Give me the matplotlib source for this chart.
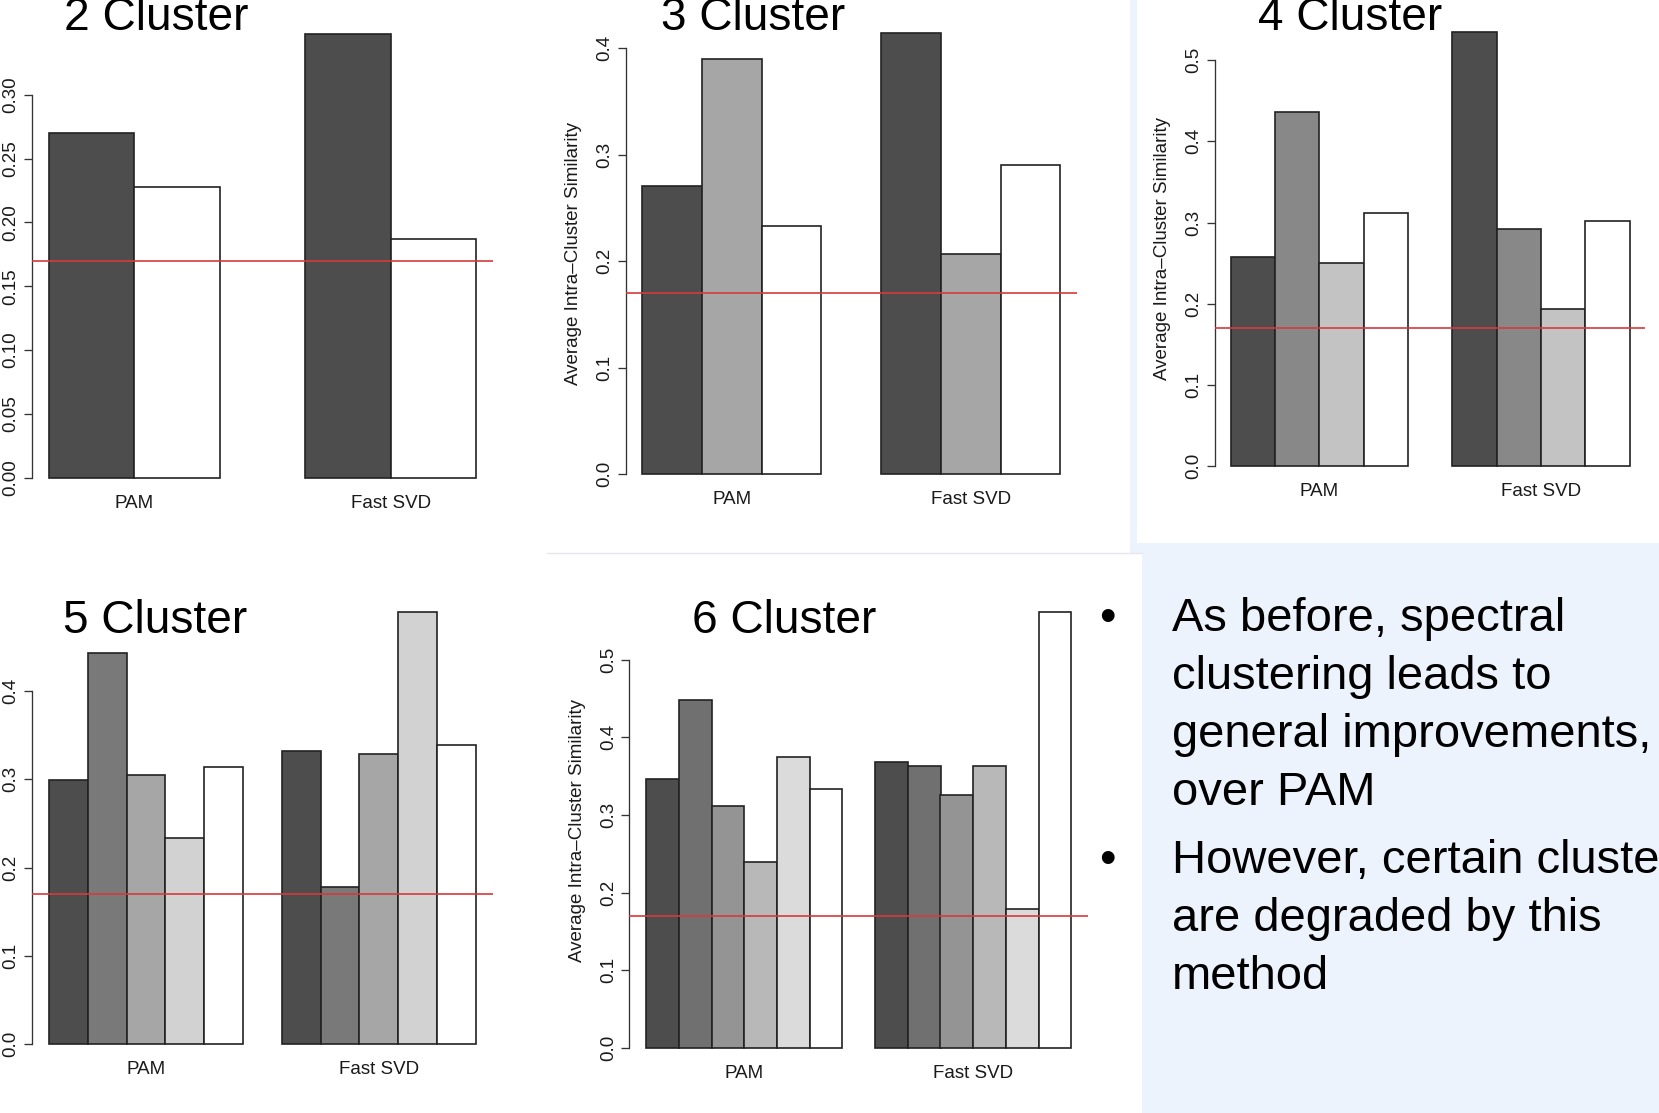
import matplotlib
matplotlib.use("Agg")
import matplotlib.pyplot as plt
from matplotlib.patches import Rectangle
from matplotlib.transforms import offset_copy
import numpy as np

plt.rcParams['font.family'] = ['Liberation Sans', 'DejaVu Sans']

W, H, DPI = 1659, 1113, 100

# ---------------- data ----------------
groups = ["PAM", "Fast SVD"]
titles = ["2 Cluster", "3 Cluster", "4 Cluster", "5 Cluster", "6 Cluster"]

pam_2 = [0.270, 0.228]
svd_2 = [0.348, 0.187]

pam_3 = [0.271, 0.390, 0.233]
svd_3 = [0.414, 0.207, 0.290]

pam_4 = [0.258, 0.436, 0.250, 0.312]
svd_4 = [0.535, 0.292, 0.193, 0.302]

pam_5 = [0.299, 0.443, 0.305, 0.234, 0.314]
svd_5 = [0.332, 0.178, 0.329, 0.490, 0.339]

pam_6 = [0.346, 0.448, 0.312, 0.239, 0.375, 0.334]
svd_6 = [0.368, 0.363, 0.326, 0.363, 0.179, 0.561]

reference_line = 0.17

ticks_2 = [0.00, 0.05, 0.10, 0.15, 0.20, 0.25, 0.30]
ticks_3 = [0.0, 0.1, 0.2, 0.3, 0.4]
ticks_4 = [0.0, 0.1, 0.2, 0.3, 0.4, 0.5]
ticks_5 = [0.0, 0.1, 0.2, 0.3, 0.4]
ticks_6 = [0.0, 0.1, 0.2, 0.3, 0.4, 0.5]
tick_fmt = ["{:.2f}", "{:.1f}", "{:.1f}", "{:.1f}", "{:.1f}"]

ylabel = "Average Intra\u2013Cluster Similarity"

bullet_1 = ["As before, spectral", "clustering leads to",
            "general improvements,", "over PAM"]
bullet_2 = ["However, certain clusters", "are degraded by this", "method"]

# ---------------- layout (pixels) ----------------
# (left edge of first bar, right edge of last bar, y of zero, px per unit)
layout = [
    (49.0, 476.0, 477.5, 1275.0),
    (642.4, 1060.2, 474.2, 1064.5),
    (1230.7, 1629.5, 465.8, 811.0),
    (49.0, 475.7, 1044.0, 882.0),
    (646.2, 1071.3, 1047.8, 776.0),
]
title_pos = [(63.5, 30), (661.3, 29.5), (1257.5, 30.5), (63.3, 633.4), (691.7, 633.4)]

BG = '#EDF3FC'
fig = plt.figure(figsize=(W / DPI, H / DPI), dpi=DPI, facecolor=BG)


def fx(x):
    return x / W


def fy(y):
    return 1 - y / H


# white image areas of the slide
for (x0, y0, x1, y1) in [(0, 0, 1130, 553), (0, 553, 1142, 1113), (1137, 0, 1659, 543)]:
    fig.patches.append(Rectangle((fx(x0), fy(y1)), (x1 - x0) / W, (y1 - y0) / H,
                                 transform=fig.transFigure, facecolor='white',
                                 edgecolor='none', zorder=-5))
fig.lines.append(plt.Line2D([fx(547), fx(1142)], [fy(553), fy(553)],
                            transform=fig.transFigure, color='#E6E7EC', lw=1.0,
                            zorder=-4))

pams = [pam_2, pam_3, pam_4, pam_5, pam_6]
svds = [svd_2, svd_3, svd_4, svd_5, svd_6]
tickss = [ticks_2, ticks_3, ticks_4, ticks_5, ticks_6]

TXT = '#1a1a1a'
AXC = '#333333'

for k in range(5):
    pam, svd, ticks = pams[k], svds[k], tickss[k]
    n = len(pam)
    xL, xR, y0, ppu = layout[k]
    span = 2 * n + 1
    unit = (xR - xL) / span
    pad_u = 0.04 * span
    ax_left = xL - pad_u * unit
    ax_w = span * 1.08 * unit
    hmax = max(pam + svd)
    ax_top = y0 - hmax * ppu
    ax = fig.add_axes([fx(ax_left), fy(y0), ax_w / W, (y0 - ax_top) / H])
    ax.set_zorder(2)
    ax.set_facecolor('none')
    ax.set_xlim(1 - pad_u, 2 * n + 2 + pad_u)
    ax.set_ylim(0, hmax)

    greys = np.linspace(0.3, 1.0, n)
    colors = [(g, g, g) for g in greys]
    for gi, vals in enumerate([pam, svd]):
        lefts = [1 + gi * (n + 1) + i for i in range(n)]
        ax.bar(lefts, vals, width=1.0, align='edge', color=colors,
               edgecolor='#222222', linewidth=1.2, clip_on=False, zorder=2)
        center = 1 + gi * (n + 1) + n / 2
        ax.text(center, 0, groups[gi], ha='center', va='baseline',
                fontsize=13.5, color=TXT,
                transform=offset_copy(ax.transData, fig=fig, y=-30, units='dots'))

    ax.axhline(reference_line, color='#D63A3A', lw=1.2, zorder=3)

    for s in ['top', 'right', 'bottom']:
        ax.spines[s].set_visible(False)
    ax.spines['left'].set_bounds(ticks[0], ticks[-1])
    ax.spines['left'].set_color(AXC)
    ax.spines['left'].set_linewidth(0.95)
    ax.set_xticks([])
    ax.set_yticks(ticks)
    ax.set_yticklabels([tick_fmt[k].format(t) for t in ticks], rotation=90,
                       va='center', color=TXT, fontsize=13.5)
    ax.tick_params(axis='y', length=5.5, width=0.95, color=AXC, pad=3.3)

    # the y-axis title only shows where the original image is not cropped
    if ax_left - 52 > 10:
        ax.text(0, 0.5, ylabel, rotation=90, rotation_mode='anchor',
                ha='center', va='center', fontsize=13.5, color=TXT,
                transform=offset_copy(ax.transAxes, fig=fig, x=-52, units='dots'))

    tx, ty = title_pos[k]
    fig.text(fx(tx), fy(ty), titles[k], ha='left', va='baseline',
             fontsize=33.1, color='black')

# ---------------- bullet text ----------------
line_h = 58.0
para_start = [631.3, 873.2]
for lines, y_start in zip([bullet_1, bullet_2], para_start):
    fig.text(fx(1107), fy(y_start), '\u2022', ha='center', va='baseline',
             fontsize=33.9, color='black')
    for i, line in enumerate(lines):
        fig.text(fx(1171.6), fy(y_start + i * line_h), line, ha='left',
                 va='baseline', fontsize=33.9, color='black')

fig.savefig('out.png', dpi=DPI, facecolor=BG)
